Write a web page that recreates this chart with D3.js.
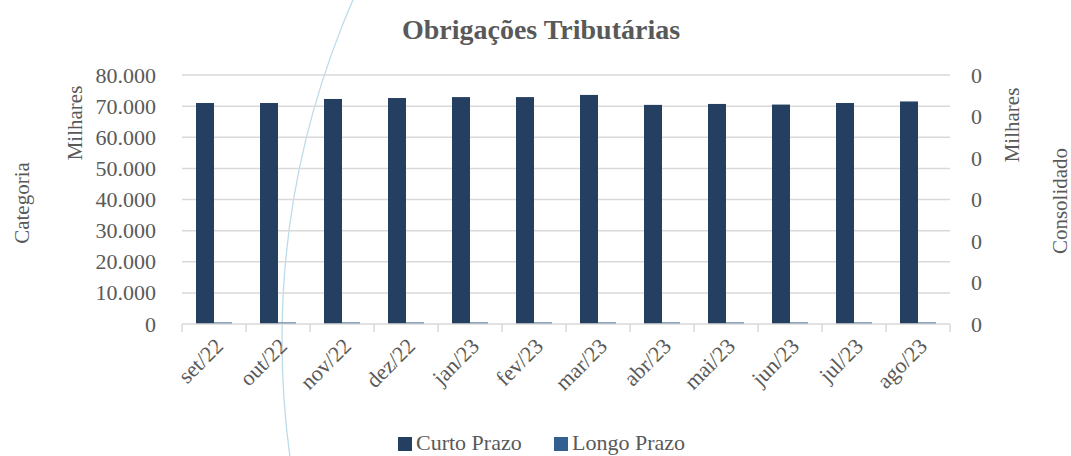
<!DOCTYPE html>
<html>
<head>
<meta charset="utf-8">
<script src="https://cdn.jsdelivr.net/npm/d3@7"></script>
<style>
  body { margin: 0; background: #fff; }
  svg text { font-family: "Liberation Serif", "DejaVu Serif", serif; fill: #595959; }
</style>
</head>
<body>
<svg width="1071" height="456"></svg>
<script>
// data
var months = ["set/22", "out/22", "nov/22", "dez/22", "jan/23", "fev/23",
              "mar/23", "abr/23", "mai/23", "jun/23", "jul/23", "ago/23"];
var curtoPrazo = [71000, 71000, 72300, 72600, 72900, 72900,
                  73600, 70400, 70700, 70500, 71000, 71500];
var longoPrazo = [500, 500, 500, 500, 500, 500, 500, 500, 500, 500, 500, 500];
var leftTicks = [0, 10000, 20000, 30000, 40000, 50000, 60000, 70000, 80000];
var rightTicks = [0, 0.0001, 0.0002, 0.0003, 0.0004, 0.0005, 0.0006];
var seriesNames = ["Curto Prazo", "Longo Prazo"];
var colors = ["#243f60", "#335f91"];

var svg = d3.select("svg");
var plotLeft = 182, plotRight = 950, plotTop = 75, plotBottom = 324;

// decorative arc in the background
svg.append("circle")
  .attr("cx", 1132).attr("cy", 340).attr("r", 850)
  .attr("fill", "none").attr("stroke", "#bcdbe8").attr("stroke-width", 1.3);

var x = d3.scaleBand().domain(months).range([plotLeft, plotRight]);
var y = d3.scaleLinear().domain([0, 80000]).range([plotBottom, plotTop]);
var y2 = d3.scaleLinear().domain([0, 0.0006]).range([plotBottom, plotTop]);
var fmt = d3.format(",.0f");
var ptBR = function(v) { return fmt(v).replace(/,/g, "."); };

// gridlines
svg.append("g").selectAll("line")
  .data(leftTicks.slice(1))
  .enter().append("line")
    .attr("x1", plotLeft).attr("x2", plotRight)
    .attr("y1", function(d) { return y(d); })
    .attr("y2", function(d) { return y(d); })
    .attr("stroke", "#d9d9d9").attr("stroke-width", 1.5);

// bars
var bw = 18;
var g = svg.append("g");
g.selectAll("rect.curto")
  .data(curtoPrazo)
  .enter().append("rect")
    .attr("class", "curto")
    .attr("x", function(d, i) { return x(months[i]) + x.bandwidth() / 2 - bw; })
    .attr("y", function(d) { return y(d); })
    .attr("width", bw)
    .attr("height", function(d) { return plotBottom - y(d); })
    .attr("fill", colors[0]);
g.selectAll("rect.longo")
  .data(longoPrazo)
  .enter().append("rect")
    .attr("class", "longo")
    .attr("x", function(d, i) { return x(months[i]) + x.bandwidth() / 2; })
    .attr("y", function(d) { return y(d); })
    .attr("width", bw)
    .attr("height", function(d) { return plotBottom - y(d); })
    .attr("fill", colors[1]);

// x axis
var xAxis = svg.append("g")
  .attr("transform", "translate(0," + plotBottom + ")");
xAxis.append("line")
  .attr("x1", plotLeft).attr("x2", plotRight)
  .attr("stroke", "#d9d9d9").attr("stroke-width", 1.5);
xAxis.selectAll("line.tick")
  .data(months.concat(["end"]))
  .enter().append("line")
    .attr("class", "tick")
    .attr("x1", function(d, i) { return plotLeft + i * x.bandwidth(); })
    .attr("x2", function(d, i) { return plotLeft + i * x.bandwidth(); })
    .attr("y1", 0).attr("y2", 8)
    .attr("stroke", "#d9d9d9").attr("stroke-width", 1.5);
xAxis.selectAll("text")
  .data(months)
  .enter().append("text")
    .attr("transform", function(d) {
      return "translate(" + (x(d) + x.bandwidth() / 2 + 5) + ",18) rotate(-45)";
    })
    .attr("text-anchor", "end")
    .attr("dy", "0.35em")
    .style("font-size", "22px")
    .text(function(d) { return d; });

// left axis
var yAxis = d3.axisLeft(y).tickValues(leftTicks).tickFormat(ptBR).tickSize(0).tickPadding(0);
svg.append("g")
  .attr("transform", "translate(156,0)")
  .call(yAxis)
  .call(function(s) { s.select(".domain").remove(); })
  .selectAll("text")
    .style("font-size", "22px").style("font-family", "Liberation Serif").attr("fill", "#595959");

// right axis
var y2Axis = d3.axisRight(y2).tickValues(rightTicks).tickFormat(d3.format(".0f")).tickSize(0).tickPadding(0);
svg.append("g")
  .attr("transform", "translate(971,0)")
  .call(y2Axis)
  .call(function(s) { s.select(".domain").remove(); })
  .selectAll("text")
    .style("font-size", "22px").style("font-family", "Liberation Serif").attr("fill", "#595959");

// axis titles
function vtitle(txt, cx, cy) {
  svg.append("text")
    .attr("transform", "translate(" + cx + "," + cy + ") rotate(-90)")
    .attr("text-anchor", "middle")
    .attr("dy", "0.35em")
    .style("font-size", "21px")
    .text(txt);
}
vtitle("Categoria", 22, 203);
vtitle("Milhares", 75, 123);
vtitle("Milhares", 1012, 125);
vtitle("Consolidado", 1060, 201);

// title
svg.append("text")
  .attr("x", 541).attr("y", 39)
  .attr("text-anchor", "middle")
  .style("font-size", "28px").style("font-weight", "bold")
  .text("Obrigações Tributárias");

// legend
var legend = svg.append("g");
var legX = [398, 554];
seriesNames.forEach(function(name, i) {
  legend.append("rect")
    .attr("x", legX[i]).attr("y", 437).attr("width", 14).attr("height", 14)
    .attr("fill", colors[i]);
  legend.append("text")
    .attr("x", legX[i] + 18).attr("y", 450)
    .style("font-size", "22px")
    .text(name);
});
</script>
</body>
</html>
